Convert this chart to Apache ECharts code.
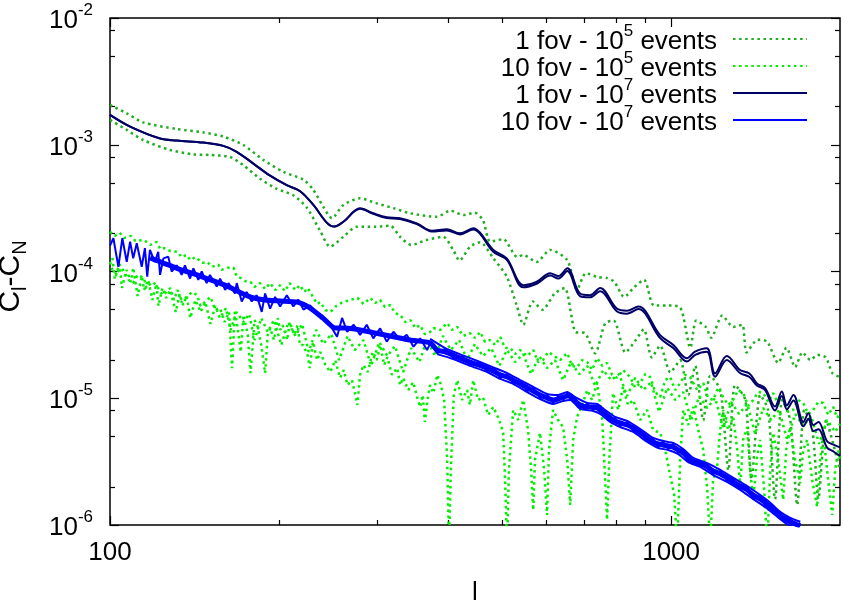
<!DOCTYPE html>
<html>
<head>
<meta charset="utf-8">
<script src="https://cdn.jsdelivr.net/npm/echarts@6.0.0/dist/echarts.min.js"></script>
<style>
html, body { margin: 0; padding: 0; background: #fff; }
#chart { width: 843px; height: 603px; }
</style>
</head>
<body>
<div id="chart"></div>
<script>
var FONT = 'Liberation Sans, Arial, sans-serif';

// tick positions
var xMajor = [100, 1000];
var xMinor = [200, 300, 400, 500, 600, 700, 800, 900];
var yMajor = [1e-6, 1e-5, 1e-4, 1e-3, 1e-2];
var yMinor = [2e-6, 5e-6, 8e-6, 2e-5, 5e-5, 8e-5, 2e-4, 5e-4, 8e-4, 2e-3, 5e-3, 8e-3];

// legend
var seriesNames = ['1fov_1e5', '10fov_1e5', '1fov_1e7', '10fov_1e7'];
var legendLead = ['1 fov - 10', '10 fov - 10', '1 fov - 10', '10 fov - 10'];
var legendExp = ['5', '5', '7', '7'];

// 1 fov - 10^5 events : upper / lower
var g1Upper = [[100,2.06e-3],[107.1,1.77e-3],[114.6,1.5e-3],[131.5,1.33e-3],[146.7,1.25e-3],[159.2,1.16e-3],[172.8,9.95e-4],[187.6,7.6e-4],[203.8,6.1e-4],[221.2,5.3e-4],[230.4,4.4e-4],[240,3.24e-4],[248.6,2.63e-4],[260.6,3.35e-4],[279,3.78e-4],[297.9,3.46e-4],[320,3.16e-4],[342.7,2.88e-4],[382.4,2.7e-4],[403.9,3.02e-4],[426.6,2.79e-4],[446.6,2.91e-4],[462,2.55e-4],[476,1.72e-4],[502,1.8e-4],[532,1.3e-4],[545,1.35e-4],[576,1.19e-4],[609,1.48e-4],[653,1.23e-4],[680,7.2e-5],[705,9.7e-5],[741,9.0e-5],[767,8.9e-5],[792,8.3e-5],[825,6.3e-5],[859,7.5e-5],[895,8.6e-5],[932,5.4e-5],[983,5.4e-5],[1038,5.2e-5],[1082,2.5e-5],[1109,4.1e-5],[1153,3.65e-5],[1179,3.0e-5],[1234,4.5e-5],[1291,3.65e-5],[1339,3.8e-5],[1363,2.3e-5],[1427,2.9e-5],[1483,2.8e-5],[1552,1.9e-5],[1605,2.5e-5],[1664,1.76e-5],[1714,2.3e-5],[1772,2.0e-5],[1822,2.2e-5],[1887,2.1e-5],[1938,1.58e-5],[2000,1.47e-5]];
var g1Lower = [[100,1.57e-3],[107.1,1.31e-3],[114.6,1.09e-3],[127.9,9.1e-4],[140.7,8.4e-4],[150.7,8.3e-4],[163.7,8.0e-4],[172.8,6.9e-4],[185.1,5.4e-4],[198,4.5e-4],[212,4.0e-4],[224.2,3.2e-4],[236.8,2.1e-4],[246.8,1.57e-4],[260.6,1.88e-4],[275,2.25e-4],[297.9,2.25e-4],[315.7,2.3e-4],[328.7,1.88e-4],[344.3,1.62e-4],[366.3,1.77e-4],[392.3,1.88e-4],[409,1.48e-4],[419.6,1.22e-4],[438.4,1.57e-4],[456.8,1.7e-4],[482.3,1.27e-4],[509.5,9.1e-5],[531.4,5.3e-5],[545.4,3.8e-5],[567,5.8e-5],[590,5.0e-5],[620,6.7e-5],[646,7.4e-5],[675,3.35e-5],[703,3.25e-5],[732,2.26e-5],[763,3.9e-5],[790,4.1e-5],[829,2.3e-5],[866,2.9e-5],[894,3.5e-5],[924,2.1e-5],[956,2.6e-5],[997,1.6e-5],[1038,2.0e-5],[1073,1.06e-5],[1104,1.8e-5],[1141,6.7e-6],[1174,1.5e-5],[1224,1.16e-5],[1265,2.7e-6],[1300,1.27e-5],[1356,9.7e-6],[1391,2.3e-6],[1442,1.06e-5],[1489,8.1e-6],[1532,1.6e-6],[1578,9.7e-6],[1631,6.7e-6],[1678,1.44e-6],[1728,8.1e-6],[1786,5.6e-6],[1830,1.6e-6],[1890,6.7e-6],[1947,4.3e-6],[2000,2.7e-6]];

// 10 fov - 10^5 events : upper / scatter / lower
var g10Upper = [[100,2.06e-4],[102,1.91e-4],[104,2.02e-4],[106,1.84e-4],[109,1.91e-4],[111,1.74e-4],[115,1.77e-4],[118,1.62e-4],[121,1.71e-4],[123,1.5e-4],[125,1.53e-4],[128,1.45e-4],[132,1.43e-4],[134,1.3e-4],[137,1.35e-4],[139,1.23e-4],[142,1.3e-4],[146,1.17e-4],[149,1.19e-4],[152,1.09e-4],[156,1.13e-4],[158,1.03e-4],[162,1.07e-4],[166,1.07e-4],[168,9.21e-5],[171,8.88e-5],[174,8.4e-5],[178,8.26e-5],[181,7.55e-5],[185,8.1e-5],[189,7.28e-5],[193,8.1e-5],[197,7.14e-5],[201,7.8e-5],[205,7.0e-5],[209,8.1e-5],[214,7.14e-5],[218,7.8e-5],[222,6.89e-5],[225,7.41e-5],[230,6.3e-5],[234,5.54e-5],[237,5.74e-5],[242,4.97e-5],[247,4.79e-5],[253,5.34e-5],[260,5.74e-5],[268,5.96e-5],[276,6.18e-5],[283,5.54e-5],[291,6.18e-5],[297,5.64e-5],[303,5.96e-5],[309,5.25e-5],[316,5.44e-5],[322,4.7e-5],[329,4.54e-5],[336,3.99e-5],[343,4.14e-5],[350,3.58e-5],[357,3.78e-5],[364,3.21e-5],[372,3.33e-5],[377,3.58e-5],[388,3.46e-5],[399,3.92e-5],[407,3.46e-5],[416,3.65e-5],[426,3.1e-5],[438,3.27e-5],[447,2.99e-5],[457,3.33e-5],[466,2.78e-5],[476,2.88e-5],[486,2.63e-5],[496,3.04e-5],[506,2.49e-5],[517,2.49e-5],[527,2.23e-5],[538,2.4e-5],[554,2.15e-5],[568,2.4e-5],[579,1.93e-5],[591,2.0e-5],[604,2.32e-5],[616,2.19e-5],[634,2.0e-5],[653,2.27e-5],[666,1.8e-5],[680,1.76e-5],[694,2.0e-5],[709,1.93e-5],[723,1.67e-5],[738,2.08e-5],[754,1.8e-5],[769,1.9e-5],[785,1.53e-5],[801,1.45e-5],[821,1.67e-5],[845,1.47e-5],[863,1.21e-5],[881,1.32e-5],[899,1.55e-5],[918,1.47e-5],[937,1.12e-5],[956,1.02e-5],[976,1.39e-5],[996,1.47e-5],[1017,1.16e-5],[1038,1.32e-5],[1059,1.53e-5],[1081,1.47e-5],[1113,1.16e-5],[1141,1.32e-5],[1164,1.005e-5],[1188,9.69e-6],[1213,1.21e-5],[1238,1.02e-5],[1264,8.85e-6],[1290,9.69e-6],[1317,1.16e-5],[1344,1.1e-5],[1372,8.69e-6],[1401,9.69e-6],[1430,1.12e-5],[1459,1.1e-5],[1490,9.35e-6],[1520,1.1e-5],[1552,9.01e-6],[1584,9.69e-6],[1617,7.79e-6],[1650,8.08e-6],[1685,9.69e-6],[1720,9.18e-6],[1755,7.51e-6],[1792,8.08e-6],[1829,9.35e-6],[1867,9.18e-6],[1905,7.38e-6],[1945,8.54e-6],[1977,6.99e-6],[2000,7.65e-6]];
var g10Mid = [[101,1.28e-4],[102,8.72e-5],[104,1.15e-4],[105,7.41e-5],[107,1.03e-4],[109,8.26e-5],[110,1.07e-4],[112,6.41e-5],[114,9.21e-5],[115,7.14e-5],[117,8.57e-5],[119,5.96e-5],[121,7.97e-5],[122,5.34e-5],[124,7.41e-5],[126,6.18e-5],[128,7.14e-5],[131,4.79e-5],[133,6.64e-5],[135,5.44e-5],[137,6.41e-5],[139,4.29e-5],[142,5.96e-5],[145,4.79e-5],[148,5.74e-5],[151,3.85e-5],[154,5.34e-5],[157,4.29e-5],[161,5.15e-5],[164,3.46e-5],[168,4.79e-5],[173,3.99e-5],[177,4.62e-5],[181,2.88e-5],[186,4.29e-5],[191,3.33e-5],[196,4.14e-5],[202,2.63e-5],[208,3.99e-5],[214,3.1e-5],[220,3.85e-5],[226,2.32e-5],[233,3.46e-5],[240,2.68e-5],[248,3.21e-5],[256,2.0e-5],[265,3.1e-5],[273,2.4e-5],[283,2.88e-5],[292,1.8e-5],[302,2.78e-5],[312,2.15e-5],[322,2.58e-5],[333,1.61e-5],[344,2.49e-5],[356,1.93e-5],[367,2.88e-5],[380,2.15e-5],[392,3.1e-5],[405,2.4e-5],[419,2.88e-5],[433,2.0e-5],[447,2.68e-5],[462,2.15e-5],[478,2.49e-5],[494,1.8e-5],[510,2.4e-5],[527,1.93e-5],[545,2.23e-5],[563,1.55e-5],[582,2.15e-5],[601,1.73e-5],[621,2.0e-5],[642,1.39e-5],[663,1.93e-5],[686,1.55e-5],[709,1.8e-5],[732,1.25e-5],[757,1.67e-5],[782,1.39e-5],[808,1.55e-5],[835,1.04e-5],[863,1.45e-5],[892,1.16e-5],[921,1.34e-5],[952,7.79e-6],[984,1.21e-5],[1017,9.69e-6],[1051,1.12e-5],[1086,6.74e-6],[1122,1.04e-5],[1160,8.38e-6],[1198,1.005e-5],[1238,5.83e-6],[1280,9.35e-6],[1322,7.51e-6],[1367,9.01e-6],[1412,5.23e-6],[1459,8.38e-6],[1508,6.74e-6],[1558,8.08e-6],[1610,4.69e-6],[1664,7.51e-6],[1720,6.04e-6],[1777,7.25e-6],[1836,4.36e-6],[1898,6.74e-6],[1961,5.42e-6],[2000,6.27e-6]];
var g10Lower = [[100,1.19e-4],[101,1.03e-4],[103,9.4e-5],[104,1.13e-4],[106,9.91e-5],[108,8.57e-5],[110,8.1e-5],[112,9.4e-5],[115,8.88e-5],[116,7.41e-5],[119,8.26e-5],[121,7.8e-5],[124,6.5e-5],[126,6.89e-5],[128,7.41e-5],[130,5.96e-5],[132,7.14e-5],[134,5.74e-5],[137,6.3e-5],[140,6.89e-5],[143,6.5e-5],[145,5.34e-5],[146,5.44e-5],[149,5.96e-5],[151,6.3e-5],[154,4.97e-5],[157,5.15e-5],[160,3.99e-5],[163,4.79e-5],[165,1.73e-5],[167,4.97e-5],[169,3.46e-5],[171,2.32e-5],[173,4.54e-5],[176,3.16e-5],[178,1.58e-5],[181,4.14e-5],[183,3.78e-5],[186,2.63e-5],[189,1.58e-5],[191,3.16e-5],[193,3.58e-5],[196,2.88e-5],[199,4.29e-5],[201,3.46e-5],[203,3.78e-5],[207,2.88e-5],[209,3.99e-5],[213,3.16e-5],[216,3.78e-5],[218,2.63e-5],[221,2.63e-5],[225,2.19e-5],[227,1.73e-5],[230,2.78e-5],[234,2.0e-5],[237,2.32e-5],[242,1.83e-5],[247,1.61e-5],[252,2.0e-5],[257,1.45e-5],[261,1.67e-5],[265,1.27e-5],[270,1.39e-5],[276,8.85e-6],[279,1.53e-5],[283,1.83e-5],[288,1.61e-5],[294,2.32e-5],[299,2.0e-5],[303,2.63e-5],[308,1.83e-5],[312,2.11e-5],[318,1.53e-5],[325,1.73e-5],[329,1.27e-5],[333,1.45e-5],[340,1.16e-5],[347,1.34e-5],[353,1.005e-5],[357,8.54e-6],[361,1.06e-5],[364,6.5e-6],[369,1.06e-5],[372,1.27e-5],[377,1.1e-5],[383,1.53e-5],[388,1.32e-5],[394,9.69e-6],[399,3.26e-6],[402,7e-7],[405,2.72e-6],[410,1.06e-5],[416,1.39e-5],[424,9.69e-6],[433,1.16e-5],[438,8.85e-6],[444,1.39e-5],[453,9.69e-6],[462,1.02e-5],[472,7.38e-6],[482,8.54e-6],[494,6.74e-6],[502,5.33e-6],[506,2.27e-6],[510,7e-7],[514,2.72e-6],[523,8.08e-6],[534,6.74e-6],[545,9.69e-6],[556,5.62e-6],[563,2.72e-6],[568,1.31e-6],[572,3.26e-6],[584,5.33e-6],[594,2.72e-6],[601,1.2e-6],[606,3.91e-6],[616,8.08e-6],[629,6.74e-6],[642,5.93e-6],[653,3.26e-6],[661,1.44e-6],[669,4.69e-6],[680,7.12e-6],[694,8.85e-6],[709,1.16e-5],[723,9.69e-6],[738,1.32e-5],[754,6.74e-6],[763,2.27e-6],[769,1.1e-6],[776,3.26e-6],[788,1.1e-5],[805,8.08e-6],[821,1.23e-5],[838,8.85e-6],[856,9.69e-6],[881,6.74e-6],[906,8.08e-6],[929,5.62e-6],[956,5.33e-6],[976,3.91e-6],[996,2.48e-6],[1013,1.72e-6],[1025,7e-7],[1038,3.26e-6],[1051,8.08e-6],[1073,6.15e-6],[1095,8.54e-6],[1118,5.62e-6],[1141,3.91e-6],[1160,1.89e-6],[1174,7e-7],[1188,2.27e-6],[1208,2.87e-6],[1223,5.62e-6],[1238,8.08e-6],[1264,5.62e-6],[1290,7.12e-6],[1312,3.91e-6],[1328,2.0e-6],[1344,4.69e-6],[1367,5.93e-6],[1383,2.72e-6],[1401,1.58e-6],[1424,3.56e-6],[1441,4.69e-6],[1465,1.89e-6],[1484,7e-7],[1502,2.72e-6],[1520,5.33e-6],[1552,3.26e-6],[1584,1.58e-6],[1604,3.91e-6],[1630,5.93e-6],[1664,3.26e-6],[1699,2.14e-6],[1720,3.91e-6],[1748,4.69e-6],[1784,2.27e-6],[1821,1.39e-6],[1844,3.26e-6],[1867,5.33e-6],[1905,2.27e-6],[1937,1.2e-6],[1961,2.72e-6],[1985,3.91e-6],[2000,3.26e-6]];

// 1 fov - 10^7 events : two realisations
var navyA = [[100,1.72e-3],[108.6,1.39e-3],[122.8,1.12e-3],[131.5,1.08e-3],[146.7,1.04e-3],[159.2,9.8e-4],[168.2,8.8e-4],[180.1,7.1e-4],[192.9,5.7e-4],[206.5,4.8e-4],[218.2,4.3e-4],[230.4,3.35e-4],[243.4,2.43e-4],[250.8,2.26e-4],[260.6,2.47e-4],[279,3.15e-4],[294.6,2.88e-4],[311.2,2.68e-4],[328.7,2.63e-4],[352.2,2.4e-4],[374.6,2.1e-4],[398.3,2.15e-4],[420.7,2.0e-4],[444.3,2.19e-4],[456.6,2.02e-4],[482.3,1.48e-4],[509.5,1.27e-4],[545.4,7.8e-5],[576.3,8.3e-5],[608.6,9.7e-5],[629.7,9.2e-5],[653.4,1.06e-4],[688.4,6.7e-5],[717.2,6.5e-5],[747.2,7.4e-5],[800.3,5.1e-5],[833.7,4.9e-5],[874.4,5.3e-5],[956,3.15e-5],[1009.5,2.63e-5],[1066.6,2.07e-5],[1103.6,2.33e-5],[1157.8,2.48e-5],[1198,1.57e-5],[1257,2.15e-5],[1327,1.67e-5],[1379,1.57e-5],[1422,1.31e-5],[1471,1.2e-5],[1532,8.6e-6],[1575,1.13e-5],[1608,8.8e-6],[1652,1.06e-5],[1721,6.5e-6],[1757,7.6e-6],[1793,6.15e-6],[1831,6.5e-6],[1895,4.6e-6],[1947,4.3e-6],[2000,4.1e-6]];
var navyB = [[100,1.72e-3],[108.6,1.39e-3],[122.8,1.12e-3],[131.5,1.08e-3],[146.7,1.04e-3],[159.2,9.8e-4],[168.2,8.8e-4],[180.1,7.1e-4],[192.9,5.7e-4],[206.5,4.8e-4],[218.2,4.3e-4],[230.4,3.35e-4],[243.4,2.43e-4],[250.8,2.26e-4],[260.6,2.47e-4],[279,3.12e-4],[294.6,2.85e-4],[311.2,2.64e-4],[328.7,2.6e-4],[352.2,2.37e-4],[374.6,2.07e-4],[398.3,2.11e-4],[420.7,1.96e-4],[444.3,2.14e-4],[456.6,1.98e-4],[482,1.43e-4],[510,1.23e-4],[545,7.5e-5],[576,8.0e-5],[609,9.3e-5],[630,8.8e-5],[653,1.01e-4],[688,6.4e-5],[717,6.25e-5],[747,7.0e-5],[800,4.85e-5],[834,4.65e-5],[874,5.05e-5],[956,2.98e-5],[1010,2.48e-5],[1067,1.95e-5],[1104,2.2e-5],[1158,2.33e-5],[1198,1.48e-5],[1257,2.0e-5],[1327,1.58e-5],[1379,1.47e-5],[1422,1.26e-5],[1471,1.16e-5],[1532,8.0e-6],[1575,1.04e-5],[1608,8.2e-6],[1652,9.6e-6],[1721,6.0e-6],[1757,6.9e-6],[1793,5.5e-6],[1831,5.7e-6],[1895,4.1e-6],[1947,3.8e-6],[2000,3.5e-6]];

// 10 fov - 10^7 events : noisy realisation, band centre and band edges
var blueZig = [[100,1.6e-4],[101.4,1.83e-4],[103.5,1.09e-4],[105.2,1.83e-4],[107.1,1.19e-4],[108.6,1.72e-4],[110,1.27e-4],[111.6,1.67e-4],[113.9,1.09e-4],[115.4,1.53e-4],[116.5,9.1e-5],[117.8,1.48e-4],[120.2,1.19e-4],[121.9,1.43e-4],[122.8,9.4e-5],[124.5,1.27e-4],[127,1.31e-4],[128.8,1.0e-4],[131.5,1.12e-4],[134.2,9.4e-5],[136,1.12e-4],[138.9,8.8e-5],[140.8,1.06e-4],[143.7,8.6e-5],[145.7,1.0e-4],[148.7,8.1e-5],[150.7,9.4e-5],[155,7.6e-5],[157.1,8.8e-5],[160.4,7.15e-5],[162.6,8.1e-5],[167,6.7e-5],[168.2,8.1e-5],[171.7,5.8e-5],[175.2,6.9e-5],[178.9,5.8e-5],[182.6,6.5e-5],[186.4,4.8e-5],[189,6.7e-5],[192.9,5.1e-5],[196.9,6.3e-5],[201,5.3e-5],[206.6,6.5e-5],[212.2,5.3e-5],[216.6,6.0e-5],[221.2,5.0e-5],[227.3,5.4e-5],[233.6,4.7e-5],[238.6,4.5e-5],[243.6,4.0e-5],[248.7,3.56e-5],[253.9,3.06e-5],[259.2,4.3e-5],[264.6,3.35e-5],[271.8,3.8e-5],[279.1,3.16e-5],[286.8,3.8e-5],[294.6,2.97e-5],[303,3.56e-5],[311.3,2.8e-5],[320,3.35e-5],[328.9,2.9e-5],[338.1,3.16e-5],[347.5,2.55e-5],[357.1,2.97e-5],[367.3,2.4e-5],[372,2.7e-5],[382.9,2.27e-5],[395.6,2.45e-5],[408.9,2.08e-5],[424.3,2.15e-5],[438.4,1.83e-5],[453.1,1.93e-5],[470.1,1.64e-5],[485.8,1.7e-5],[495.9,1.45e-5],[510.4,1.55e-5],[523.1,1.32e-5],[538.3,1.37e-5],[554,1.14e-5],[567.9,1.21e-5],[584.4,1.005e-5],[601.5,1.06e-5],[616.4,9.18e-6],[629.2,1.04e-5],[642.3,9.69e-6],[652.9,1.1e-5],[661,9.87e-6],[674.7,1.005e-5],[688.7,8.38e-6],[708.8,9.01e-6],[726.4,8.08e-6],[738.4,8.85e-6],[747.6,7.65e-6],[763.1,7.93e-6],[778.9,6.62e-6],[795,6.99e-6],[811.6,6.04e-6],[835.3,6.5e-6],[856.1,5.52e-6],[881,5.62e-6],[906.7,4.6e-6],[929.3,4.77e-6],[948.5,4.12e-6],[968.3,4.52e-6],[988.4,3.98e-6],[1008.9,4.36e-6],[1029.8,3.7e-6],[1050.9,3.91e-6],[1072.6,3.2e-6],[1095.4,3.32e-6],[1127,2.92e-6],[1160,3.03e-6],[1188.5,2.53e-6],[1224,2.67e-6],[1260,2.22e-6],[1291,2.31e-6],[1328,1.92e-6],[1367,2.0e-6],[1401,1.63e-6],[1442,1.69e-6],[1472,1.41e-6],[1502,1.47e-6],[1533,1.22e-6],[1564,1.25e-6],[1597,1.06e-6],[1631,1.12e-6],[1664,9.65e-7],[1699,1.04e-6]];
var blueMid = [[117.9,1.28e-4],[131,1.07e-4],[144.7,9.21e-5],[160.3,7.8e-5],[177.7,6.3e-5],[188.9,5.96e-5],[200.9,5.85e-5],[215.5,5.74e-5],[227.3,5.15e-5],[239.7,4.29e-5],[251.8,3.58e-5],[262.4,3.58e-5],[279.1,3.46e-5],[296.8,3.27e-5],[315.6,3.1e-5],[342.6,2.88e-5],[372,2.73e-5],[382.9,2.4e-5],[395.6,2.32e-5],[408.9,2.19e-5],[424.3,2.04e-5],[438.4,1.93e-5],[453.1,1.83e-5],[470.1,1.73e-5],[485.8,1.61e-5],[495.9,1.53e-5],[510.4,1.47e-5],[523.1,1.39e-5],[538.3,1.3e-5],[554,1.21e-5],[567.9,1.14e-5],[584.4,1.06e-5],[601.5,1.005e-5],[616.4,9.69e-6],[629.2,9.87e-6],[642.3,1.02e-5],[652.9,1.04e-5],[661,1.04e-5],[674.7,9.52e-6],[688.7,8.85e-6],[708.8,8.54e-6],[726.4,8.54e-6],[738.4,8.38e-6],[747.6,8.08e-6],[763.1,7.51e-6],[778.9,6.99e-6],[795,6.62e-6],[811.6,6.38e-6],[835.3,6.15e-6],[856.1,5.83e-6],[881,5.33e-6],[906.7,4.86e-6],[929.3,4.52e-6],[948.5,4.36e-6],[968.3,4.28e-6],[988.4,4.2e-6],[1008.9,4.12e-6],[1029.8,3.91e-6],[1050.9,3.7e-6],[1072.6,3.38e-6],[1095.4,3.14e-6],[1127,3.08e-6],[1160,2.87e-6],[1188.5,2.67e-6],[1224,2.53e-6],[1260,2.35e-6],[1291,2.18e-6],[1328,2.03e-6],[1367,1.89e-6],[1401,1.72e-6],[1442,1.6e-6],[1472,1.5e-6],[1502,1.38e-6],[1533,1.29e-6],[1564,1.18e-6],[1597,1.12e-6],[1631,1.06e-6],[1664,1.02e-6],[1699,9.8e-7]];
var blueUpper = [[372,2.94e-5],[395.6,2.49e-5],[424.3,2.19e-5],[453.1,1.96e-5],[485.8,1.73e-5],[510.4,1.58e-5],[538.3,1.39e-5],[567.9,1.23e-5],[601.5,1.08e-5],[629.2,1.06e-5],[652.9,1.12e-5],[674.7,1.02e-5],[708.8,9.18e-6],[738.4,9.01e-6],[763.1,8.08e-6],[795,7.12e-6],[835.3,6.62e-6],[881,5.72e-6],[929.3,4.86e-6],[968.3,4.6e-6],[1008.9,4.44e-6],[1050.9,3.98e-6],[1095.4,3.38e-6],[1160,3.08e-6],[1224,2.72e-6],[1291,2.35e-6],[1367,2.03e-6],[1442,1.72e-6],[1502,1.5e-6],[1564,1.27e-6],[1631,1.14e-6],[1699,1.06e-6]];
var blueLower = [[382.9,2.23e-5],[408.9,2.04e-5],[438.4,1.8e-5],[470.1,1.61e-5],[495.9,1.42e-5],[523.1,1.3e-5],[554,1.12e-5],[584.4,9.87e-6],[616.4,9.01e-6],[642.3,9.52e-6],[661,9.69e-6],[688.7,8.23e-6],[726.4,7.93e-6],[747.6,7.51e-6],[778.9,6.5e-6],[811.6,5.93e-6],[856.1,5.42e-6],[906.7,4.52e-6],[948.5,4.05e-6],[988.4,3.91e-6],[1029.8,3.63e-6],[1072.6,3.14e-6],[1127,2.87e-6],[1188.5,2.48e-6],[1260,2.18e-6],[1328,1.89e-6],[1401,1.6e-6],[1472,1.38e-6],[1533,1.2e-6],[1597,1.04e-6],[1664,9.5e-7]];

var chartElement = document.getElementById('chart');

function lineSeries(name, data, color, width, dotted, smooth) {
    return {
        name: name,
        type: 'line',
        data: data,
        symbol: 'none',
        showSymbol: false,
        smooth: smooth || false,
        silent: true,
        animation: false,
        itemStyle: { color: color },
        lineStyle: {
            color: color,
            width: width,
            type: dotted ? [2.5, 3.6] : 'solid',
            cap: 'butt'
        }
    };
}

function xAxisOf(pos, ticks, len, withLabels) {
    var ax = {
        type: 'log', logBase: 10, min: 100, max: 2000, position: pos,
        axisLine: { show: false },
        splitLine: { show: false },
        axisTick: { show: true, inside: true, length: len, customValues: ticks,
            lineStyle: { color: '#000', width: 1.2 } },
        axisLabel: { show: false }
    };
    if (withLabels) {
        ax.axisLabel = { show: true, customValues: ticks, margin: 15,
            formatter: function (v) { return String(Math.round(v)); },
            fontSize: 26, fontFamily: FONT, color: '#000' };
    }
    return ax;
}

function yAxisOf(pos, ticks, len, withLabels) {
    var ax = {
        type: 'log', logBase: 10, min: 1e-6, max: 1e-2, position: pos,
        axisLine: { show: false },
        splitLine: { show: false },
        axisTick: { show: true, inside: true, length: len, customValues: ticks,
            lineStyle: { color: '#000', width: 1.2 } },
        axisLabel: { show: false }
    };
    if (withLabels) {
        ax.axisLabel = {
            show: true, customValues: ticks, margin: 17,
            formatter: function (v) {
                return '{b|10}{s|' + Math.round(Math.log10(v)) + '}';
            },
            rich: {
                b: { fontSize: 26, fontFamily: FONT, color: '#000', verticalAlign: 'bottom' },
                s: { fontSize: 17, fontFamily: FONT, color: '#000', verticalAlign: 'top', padding: [0, 0, 15, 0] }
            }
        };
    }
    return ax;
}

var xBottom = xAxisOf('bottom', xMajor, 9, true);
xBottom.name = 'l';
xBottom.nameLocation = 'middle';
xBottom.nameGap = 55;
xBottom.nameTextStyle = { fontSize: 26, fontFamily: FONT, color: '#000' };

var yLeft = yAxisOf('left', yMajor, 9, true);
yLeft.name = '{c|C}{u|l}{c|-C}{u|N}';
yLeft.nameLocation = 'middle';
yLeft.nameRotate = 90;
yLeft.nameGap = 80;
yLeft.nameTextStyle = {
    fontSize: 30,
    fontFamily: FONT,
    color: '#000',
    padding: [0, 10, 0, 0],
    rich: {
        c: { fontSize: 30, fontFamily: FONT, color: '#000', verticalAlign: 'top' },
        u: { fontSize: 20, fontFamily: FONT, color: '#000', verticalAlign: 'bottom', padding: [14, 0, 0, 0] }
    }
};

var option = {
    animation: false,
    backgroundColor: '#fff',
    grid: {
        left: 110, right: 3, top: 18, bottom: 78,
        show: true, borderColor: '#000', borderWidth: 1.5,
        outerBoundsMode: 'none'
    },
    legend: {
        data: seriesNames,
        orient: 'vertical',
        right: 35,
        top: 23,
        padding: 0,
        itemGap: -5,
        itemWidth: 74,
        itemHeight: 12,
        align: 'right',
        selectedMode: false,
        itemStyle: { opacity: 0 },
        formatter: function (name) {
            var i = seriesNames.indexOf(name);
            return '{t|' + legendLead[i] + '}{s|' + legendExp[i] + '}{t| events}';
        },
        textStyle: {
            padding: [0, 11, 0, 0],
            rich: {
                t: { fontSize: 26, fontFamily: FONT, color: '#000', verticalAlign: 'bottom' },
                s: { fontSize: 17, fontFamily: FONT, color: '#000', verticalAlign: 'top', padding: [0, 0, 15, 0] }
            }
        }
    },
    xAxis: [
        xBottom,
        xAxisOf('bottom', xMinor, 5, false),
        xAxisOf('top', xMajor, 9, false),
        xAxisOf('top', xMinor, 5, false)
    ],
    yAxis: [
        yLeft,
        yAxisOf('left', yMinor, 5, false),
        yAxisOf('right', yMajor, 9, false),
        yAxisOf('right', yMinor, 5, false)
    ],
    series: [
        lineSeries(seriesNames[0], g1Upper, '#1fae1f', 2.5, true, 0.25),
        lineSeries(seriesNames[0], g1Lower, '#1fae1f', 2.5, true, 0.25),
        lineSeries(seriesNames[1], g10Upper, '#00f000', 2.5, true, false),
        lineSeries(seriesNames[1], g10Mid, '#00f000', 2.5, true, false),
        lineSeries(seriesNames[1], g10Lower, '#00f000', 2.5, true, false),
        lineSeries(seriesNames[2], navyA, '#000066', 2, false, 0.35),
        lineSeries(seriesNames[2], navyB, '#000066', 2, false, 0.35),
        lineSeries(seriesNames[3], blueZig, '#0000ff', 2, false, false),
        lineSeries(seriesNames[3], blueMid, '#0000ff', 5, false, 0.2),
        lineSeries(seriesNames[3], blueUpper, '#0000ff', 2, false, 0.2),
        lineSeries(seriesNames[3], blueLower, '#0000ff', 2, false, 0.2)
    ]
};

var myChart = echarts.init(chartElement);
myChart.setOption(option);
</script>
</body>
</html>
